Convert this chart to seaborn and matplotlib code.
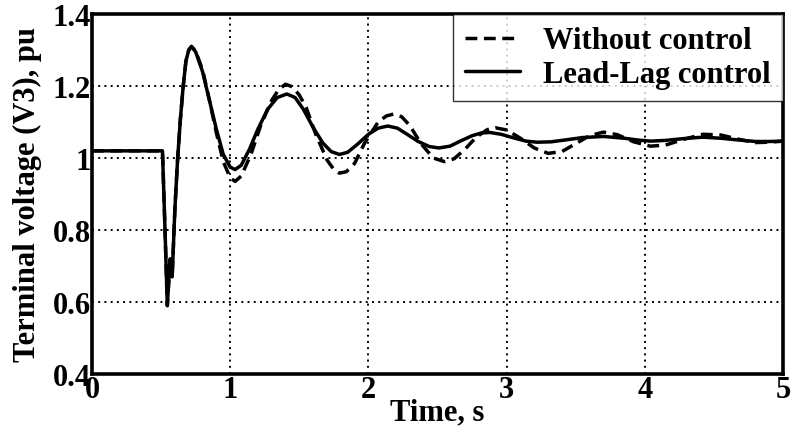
import matplotlib
matplotlib.use("Agg")
import matplotlib.pyplot as plt
import seaborn as sns
import pandas as pd

# Terminal voltage response (pu) after the disturbance at t = 0.5 s
time_without = [0.0, 0.5, 0.51, 0.53, 0.545, 0.565, 0.58, 0.60, 0.62, 0.64, 0.66, 0.68,
                0.70, 0.72, 0.75, 0.80, 0.85, 0.90, 0.95, 1.00, 1.035, 1.08, 1.15, 1.22,
                1.30, 1.35, 1.40, 1.45, 1.50, 1.55, 1.62, 1.70, 1.75, 1.79, 1.84, 1.90,
                1.97, 2.07, 2.13, 2.18, 2.24, 2.30, 2.38, 2.47, 2.55, 2.62, 2.70, 2.78,
                2.86, 2.92, 3.00, 3.10, 3.20, 3.30, 3.40, 3.50, 3.60, 3.70, 3.80, 3.92,
                4.04, 4.15, 4.28, 4.42, 4.55, 4.68, 4.80, 4.90, 5.00]
volt_without = [1.02, 1.02, 1.02, 0.78, 0.59, 0.72, 0.67, 0.86, 1.00, 1.11, 1.20, 1.27,
                1.30, 1.31, 1.297, 1.245, 1.16, 1.07, 0.99, 0.945, 0.935, 0.95, 1.01, 1.09,
                1.16, 1.19, 1.205, 1.198, 1.175, 1.14, 1.065, 0.995, 0.968, 0.958, 0.962, 0.985,
                1.04, 1.10, 1.117, 1.122, 1.115, 1.09, 1.04, 1.00, 0.99, 0.998, 1.025, 1.058,
                1.079, 1.084, 1.078, 1.055, 1.028, 1.013, 1.018, 1.04, 1.062, 1.072, 1.065, 1.045,
                1.033, 1.036, 1.052, 1.066, 1.064, 1.052, 1.043, 1.044, 1.047]

time_leadlag = [0.0, 0.5, 0.51, 0.53, 0.545, 0.565, 0.58, 0.60, 0.62, 0.64, 0.66, 0.68,
                0.70, 0.72, 0.75, 0.80, 0.85, 0.90, 0.95, 1.00, 1.035, 1.08, 1.14, 1.20,
                1.27, 1.34, 1.41, 1.47, 1.53, 1.60, 1.67, 1.73, 1.79, 1.85, 1.92, 2.00,
                2.07, 2.14, 2.21, 2.28, 2.36, 2.44, 2.51, 2.59, 2.67, 2.75, 2.82, 2.88,
                2.96, 3.05, 3.14, 3.22, 3.32, 3.42, 3.55, 3.70, 3.85, 3.95, 4.04, 4.15,
                4.28, 4.42, 4.55, 4.68, 4.80, 4.90, 5.00]
volt_leadlag = [1.02, 1.02, 1.02, 0.78, 0.59, 0.72, 0.67, 0.86, 1.00, 1.11, 1.20, 1.27,
                1.30, 1.31, 1.295, 1.24, 1.16, 1.08, 1.01, 0.975, 0.968, 0.98, 1.025, 1.08,
                1.135, 1.168, 1.178, 1.168, 1.135, 1.085, 1.042, 1.018, 1.010, 1.016, 1.038, 1.066,
                1.083, 1.089, 1.083, 1.066, 1.046, 1.032, 1.028, 1.033, 1.048, 1.062, 1.070, 1.071,
                1.066, 1.056, 1.047, 1.044, 1.045, 1.050, 1.057, 1.060, 1.055, 1.050, 1.047, 1.049,
                1.054, 1.058, 1.055, 1.050, 1.046, 1.046, 1.047]

series_names = ["Without control", "Lead-Lag control"]
x_ticks = [0, 1, 2, 3, 4, 5]
y_ticks = [0.4, 0.6, 0.8, 1.0, 1.2, 1.4]
y_tick_labels = ["0.4", "0.6", "0.8", "1", "1.2", "1.4"]

sns.set_theme(style="white")
plt.rcParams["font.family"] = ["Liberation Serif", "DejaVu Serif"]
plt.rcParams["font.weight"] = "bold"

FS = 22

fig = plt.figure(figsize=(7.95, 4.31), dpi=100)
ax = fig.add_axes([0.1157, 0.130, 0.8693, 0.835])

df_without = pd.DataFrame({"t": time_without, "v": volt_without})
df_leadlag = pd.DataFrame({"t": time_leadlag, "v": volt_leadlag})

sns.lineplot(data=df_without, x="t", y="v", ax=ax, color="black", lw=2.5,
             linestyle=(0, (3.4, 1.9)), label=series_names[0], zorder=3)
sns.lineplot(data=df_leadlag, x="t", y="v", ax=ax, color="black", lw=2.5,
             label=series_names[1], zorder=4)

ax.set_xlim(0, 5)
ax.set_ylim(0.4, 1.4)
ax.set_xticks(x_ticks)
ax.set_xticklabels([str(v) for v in x_ticks])
ax.set_yticks(y_ticks)
ax.set_yticklabels(y_tick_labels)
ax.tick_params(axis="both", direction="in", length=5, width=1.5, color="black",
               labelsize=FS, pad=1, labelcolor="black")
for lbl in ax.get_xticklabels() + ax.get_yticklabels():
    lbl.set_fontweight("bold")

ax.grid(True, color="black", linestyle=(0, (1, 2.2)), linewidth=1.4)
for s in ax.spines.values():
    s.set_visible(True)
    s.set_color("black")
    s.set_linewidth(2.6)

ax.set_xlabel("Time, s", fontsize=FS, fontweight="bold", color="black", labelpad=-5)
ax.set_ylabel("Terminal voltage (V3), pu", fontsize=FS, fontweight="bold", color="black",
              labelpad=7)

leg = ax.legend(loc="upper right", fontsize=FS, frameon=True, fancybox=False,
                borderaxespad=0, handlelength=1.8, handletextpad=0.75,
                borderpad=0.4, labelspacing=0.15)
leg.get_frame().set_edgecolor("black")
leg.get_frame().set_linewidth(1.0)
for t in leg.get_texts():
    t.set_fontweight("bold")
    t.set_color("black")

fig.savefig("out.png", dpi=100, facecolor="white")
